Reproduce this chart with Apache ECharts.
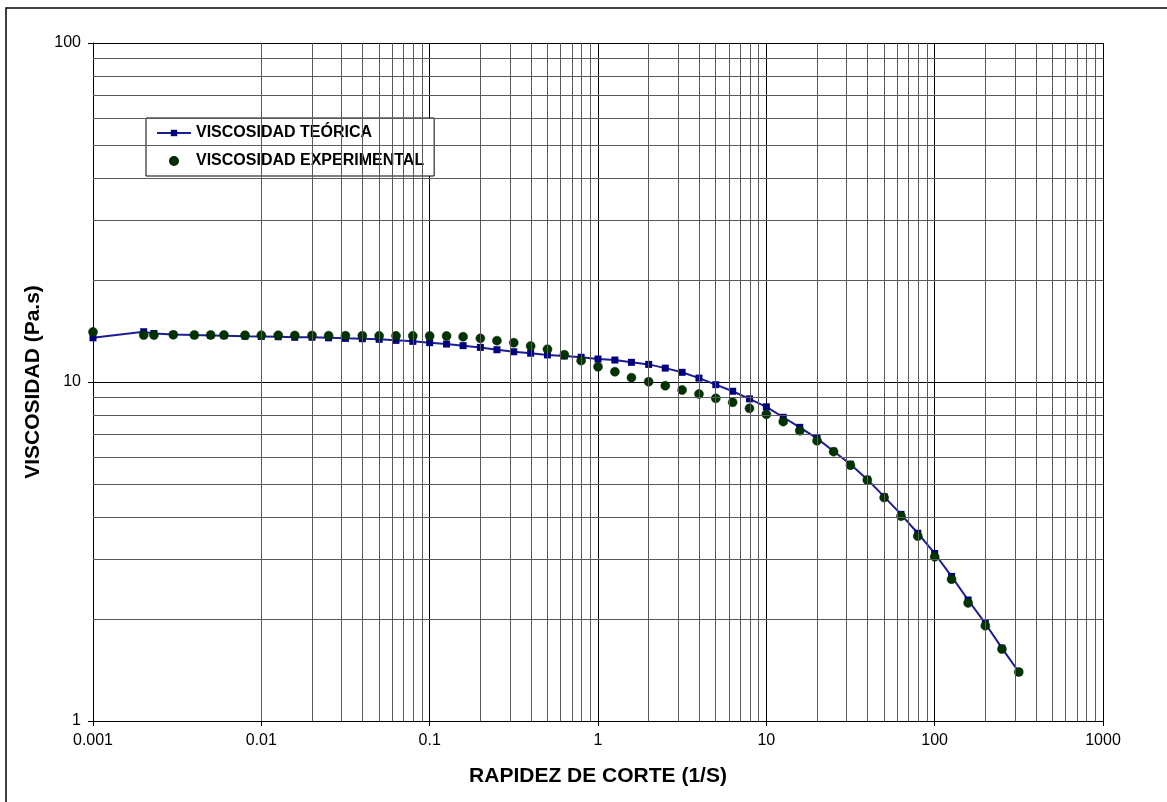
<!DOCTYPE html>
<html>
<head>
<meta charset="utf-8">
<script src="https://cdn.jsdelivr.net/npm/echarts@6/dist/echarts.min.js"></script>
<style>
  html, body { margin: 0; padding: 0; background: #fff; }
  #container { width: 1167px; height: 802px; }
</style>
</head>
<body>
<div id="container"></div>
<script>
// Datos
var rapidez = [0.001, 0.002, 0.0023, 0.003, 0.004, 0.005, 0.006, 0.008, 0.01, 0.0126, 0.0158, 0.02, 0.0251, 0.0316, 0.0398, 0.0501, 0.0631, 0.0794,
    0.1, 0.126, 0.158, 0.2, 0.251, 0.316, 0.398, 0.501, 0.631, 0.794, 1, 1.26, 1.58, 2, 2.51, 3.16, 3.98, 5.01, 6.31, 7.94,
    10, 12.6, 15.8, 20, 25.1, 31.6, 39.8, 50.1, 63.1, 79.4, 100, 126, 158, 200, 251, 316];
var viscTeorica = [13.5, 14.07, 13.9, 13.8, 13.75, 13.72, 13.7, 13.65, 13.63, 13.6, 13.55, 13.55, 13.5, 13.45, 13.42, 13.36, 13.27, 13.18,
    13.06, 12.94, 12.8, 12.65, 12.45, 12.28, 12.16, 12.02, 11.93, 11.83, 11.69, 11.61, 11.43, 11.27, 10.99, 10.68, 10.27, 9.82, 9.39, 8.92,
    8.45, 7.87, 7.35, 6.82, 6.25, 5.72, 5.16, 4.59, 4.07, 3.58, 3.12, 2.67, 2.275, 1.94, 1.64, 1.395];
var viscExperimental = [14.05, 13.75, 13.75, 13.78, 13.76, 13.76, 13.76, 13.74, 13.74, 13.74, 13.72, 13.72, 13.7, 13.7, 13.7, 13.68, 13.68, 13.68,
    13.67, 13.67, 13.6, 13.45, 13.24, 13.06, 12.77, 12.49, 12.04, 11.56, 11.09, 10.72, 10.3, 10.02, 9.75, 9.47, 9.22, 8.95, 8.71, 8.36,
    8.03, 7.64, 7.18, 6.71, 6.23, 5.68, 5.14, 4.56, 4.02, 3.51, 3.05, 2.62, 2.23, 1.91, 1.63, 1.395];
var etiquetasX = ['0.001', '0.01', '0.1', '1', '10', '100', '1000'];
var etiquetasY = ['1', '10', '100'];

// Lineas secundarias de la cuadricula (2..9 de cada decada)
var menoresX = [];
for (var d = -3; d < 3; d++) {
    for (var k = 2; k <= 9; k++) menoresX.push({ xAxis: Number((k * Math.pow(10, d)).toPrecision(3)) });
}
var menoresY = [];
for (var e = 0; e < 2; e++) {
    for (var j = 2; j <= 9; j++) menoresY.push({ yAxis: j * Math.pow(10, e) });
}

var fuente = 'Liberation Sans, Arial, sans-serif';
var myChart = echarts.init(document.getElementById('container'));

var option = {
    animation: false,
    backgroundColor: '#fff',
    textStyle: { fontFamily: fuente },
    graphic: [{
        type: 'rect',
        shape: { x: 6, y: 8, width: 1175, height: 810 },
        style: { fill: 'none', stroke: '#000', lineWidth: 1.5 },
        silent: true
    }],
    grid: { left: 93, right: 64, top: 43, bottom: 81 },
    legend: {
        left: 146,
        top: 118,
        orient: 'vertical',
        backgroundColor: '#fff',
        borderColor: '#000',
        borderWidth: 1,
        borderRadius: 0,
        padding: [7, 10, 7, 10],
        itemWidth: 34,
        itemHeight: 8,
        itemGap: 12,
        textStyle: { fontSize: 16, fontWeight: 'bold', color: '#000', fontFamily: fuente },
        data: ['VISCOSIDAD TEÓRICA', 'VISCOSIDAD EXPERIMENTAL']
    },
    xAxis: {
        type: 'log',
        logBase: 10,
        min: 0.001,
        max: 1000,
        name: 'RAPIDEZ DE CORTE (1/S)',
        nameLocation: 'middle',
        nameGap: 45,
        nameTextStyle: { fontSize: 21, fontWeight: 'bold', color: '#000', fontFamily: fuente },
        axisLine: { show: true, lineStyle: { color: '#000', width: 1 } },
        axisTick: { show: true, length: 5, lineStyle: { color: '#000' } },
        axisLabel: {
            fontSize: 16, color: '#000', margin: 12, fontFamily: fuente,
            formatter: function (v, i) { return etiquetasX[i]; }
        },
        splitLine: { show: true, lineStyle: { color: '#000', width: 1 } }
    },
    yAxis: {
        type: 'log',
        logBase: 10,
        min: 1,
        max: 100,
        name: 'VISCOSIDAD (Pa.s)',
        nameLocation: 'middle',
        nameGap: 40,
        nameTextStyle: { fontSize: 21, fontWeight: 'bold', color: '#000', fontFamily: fuente },
        axisLine: { show: true, lineStyle: { color: '#000', width: 1 } },
        axisTick: { show: true, length: 5, lineStyle: { color: '#000' } },
        axisLabel: {
            fontSize: 16, color: '#000', margin: 12, fontFamily: fuente,
            formatter: function (v, i) { return etiquetasY[i]; }
        },
        splitLine: { show: true, lineStyle: { color: '#000', width: 1 } }
    },
    series: [
        {
            type: 'line',
            data: [],
            z: 1,
            silent: true,
            markLine: {
                silent: true,
                symbol: ['none', 'none'],
                label: { show: false },
                lineStyle: { color: '#5a5a5a', width: 1, type: 'solid' },
                emphasis: { disabled: true },
                data: menoresX.concat(menoresY)
            }
        },
        {
            name: 'VISCOSIDAD TEÓRICA',
            type: 'line',
            z: 3,
            data: rapidez.map(function (x, i) { return [x, viscTeorica[i]]; }),
            symbol: 'rect',
            symbolSize: 7,
            showAllSymbol: true,
            itemStyle: { color: '#000080' },
            lineStyle: { color: '#1c1c96', width: 2 }
        },
        {
            name: 'VISCOSIDAD EXPERIMENTAL',
            type: 'scatter',
            z: 4,
            data: rapidez.map(function (x, i) { return [x, viscExperimental[i]]; }),
            symbol: 'circle',
            symbolSize: 9,
            itemStyle: { color: '#003300', opacity: 1, borderColor: '#002400', borderWidth: 0.5 }
        }
    ]
};

myChart.setOption(option);
window.addEventListener('resize', myChart.resize);
</script>
</body>
</html>
